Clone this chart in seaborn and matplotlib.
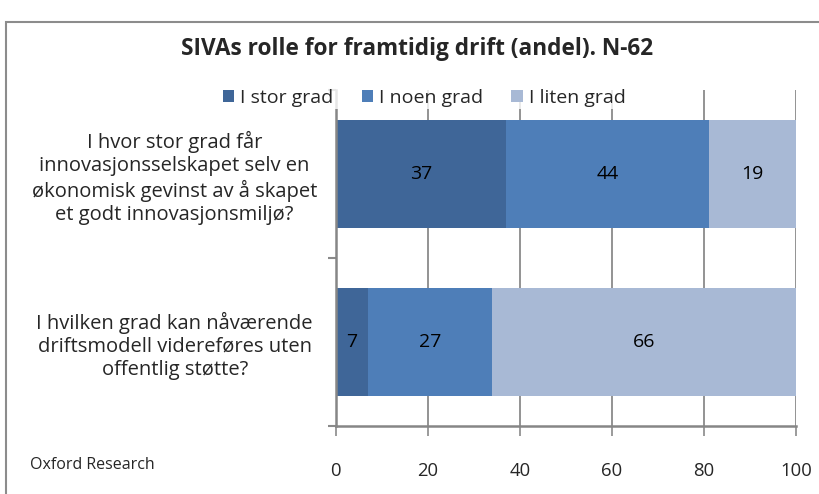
import numpy as np
import pandas as pd
import matplotlib.pyplot as plt
import seaborn as sns
from matplotlib.patches import Rectangle, Patch

questions = [
    "I hvor stor grad får\ninnovasjonsselskapet selv en\nøkonomisk gevinst av å skapet\net godt innovasjonsmiljø?",
    "I hvilken grad kan nåværende\ndriftsmodell videreføres uten\noffentlig støtte?",
]
series = ["I stor grad", "I noen grad", "I liten grad"]
stor = [37, 7]
noen = [44, 27]
liten = [19, 66]
colors = ["#3F6698", "#4E7EB8", "#A8B9D5"]
x_ticks = [0, 20, 40, 60, 80, 100]

sns.set_style("white")
plt.rcParams["font.family"] = ["Open Sans", "DejaVu Sans"]

data = pd.DataFrame({"question": questions, "I stor grad": stor,
                     "I noen grad": noen, "I liten grad": liten})
cum = data[series].cumsum(axis=1)

fig = plt.figure(figsize=(8.19, 4.94), dpi=100)
ax = fig.add_axes([0.410, 0.138, 0.562, 0.680])

# stacked bars: draw cumulative totals from the back
for name, col in reversed(list(zip(series, colors))):
    sns.barplot(x=cum[name], y=data["question"], color=col, orient="h",
                width=0.64, ax=ax, saturation=1, linewidth=0, zorder=2)

# value labels in the middle of each segment
for i in range(len(questions)):
    left = 0
    for name in series:
        v = data[name][i]
        ax.text(left + v / 2, i, str(v), ha="center", va="center",
                fontsize=14, color="black", zorder=3)
        left += v

ax.set_xlim(0, 100)
ax.set_ylim(1.5, -0.5)
ax.set_xticks(x_ticks)
ax.set_xlabel("")
ax.set_ylabel("")
ax.grid(axis="x", color="#8a8a8a", linewidth=1.3, zorder=0)
ax.set_axisbelow(True)
for s in ["top", "right"]:
    ax.spines[s].set_visible(False)
for s in ["left", "bottom"]:
    ax.spines[s].set_color("#868686")
    ax.spines[s].set_linewidth(1.8)

ax.tick_params(axis="x", which="major", length=7, width=1.2, color="#8a8a8a",
               labelsize=13.3, pad=19, direction="out", bottom=True)
ax.set_yticks([0, 1])
ax.set_yticklabels(questions, ha="center", multialignment="center",
                   fontsize=14.5, linespacing=1.22)
ax.tick_params(axis="y", which="major", length=0, pad=116)
ax.set_yticks([-0.5, 0.5, 1.5], minor=True)
ax.tick_params(axis="y", which="minor", length=6, width=1.5, color="#8a8a8a",
               left=True, direction="out")

fig.suptitle("SIVAs rolle for framtidig drift (andel). N-62", x=0.509, y=0.925,
             fontsize=16.3, fontweight="bold")

handles = [Patch(facecolor=c, edgecolor="none") for c in colors]
leg = fig.legend(handles, series, loc="center", bbox_to_anchor=(0.518, 0.802),
                 ncol=3, fontsize=14, frameon=True, handlelength=0.6,
                 handleheight=0.6, handletextpad=0.3, columnspacing=1.45,
                 borderpad=0.1)
leg.get_frame().set_facecolor("white")
leg.get_frame().set_edgecolor("none")
leg.set_zorder(5)

fig.text(0.037, 0.058, "Oxford Research", fontsize=11.5, va="center")

fig.patches.append(Rectangle((6 / 819, -0.1), 1.2, 1.078 - 11 / 494,
                             transform=fig.transFigure, fill=False,
                             edgecolor="#8c8c8c", linewidth=1.5))

fig.savefig("out.png", dpi=100)
